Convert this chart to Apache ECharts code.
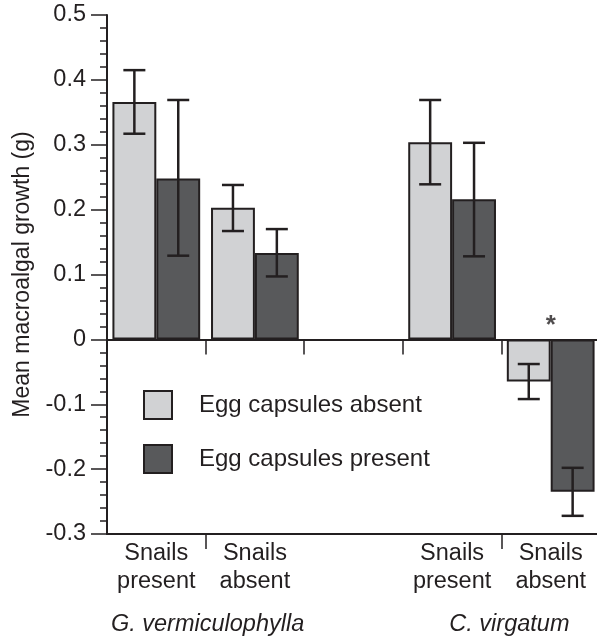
<!DOCTYPE html>
<html>
<head>
<meta charset="utf-8">
<script src="https://cdn.jsdelivr.net/npm/echarts@6/dist/echarts.min.js"></script>
<style>
html, body { margin: 0; padding: 0; background: #fff; }
#chart { width: 597px; height: 640px; }
</style>
</head>
<body>
<div id="chart"></div>
<script>
// values (third slot is an empty spacer)
var categories = ['Snails\npresent', 'Snails\nabsent', '', 'Snails\npresent', 'Snails\nabsent'];
var groups = ['G. vermiculophylla', 'C. virgatum'];
var yTicks = [-0.3, 0.5, 0.1];
var absentMean = [0.366, 0.203, null, 0.304, -0.065];
var absentLow = [0.317, 0.167, null, 0.239, -0.092];
var absentHigh = [0.415, 0.238, null, 0.369, -0.038];
var presentMean = [0.248, 0.133, null, 0.216, -0.235];
var presentLow = [0.129, 0.097, null, 0.128, -0.272];
var presentHigh = [0.369, 0.170, null, 0.303, -0.198];
var marks = ['', '', '', '', '*'];

var ink = '#231f20';
var font = '"Liberation Sans", Arial, Helvetica, sans-serif';
var fs = 23.5;
var gap = 0.11;

var chart = echarts.init(document.getElementById('chart'));

function errData(low, high) {
    var out = [];
    for (var i = 0; i < low.length; i++) {
        if (low[i] != null) out.push([i, low[i], high[i]]);
    }
    return out;
}

function errorBars(side) {
    return function (params, api) {
        var x = api.value(0);
        var lo = api.coord([x, api.value(1)]);
        var hi = api.coord([x, api.value(2)]);
        var band = api.size([1, 0])[0];
        var cx = lo[0] + side * band * (1 - gap) / 4;
        var cap = 11;
        var st = { stroke: ink, lineWidth: 2.5 };
        return {
            type: 'group',
            children: [
                { type: 'line', shape: { x1: cx, y1: hi[1], x2: cx, y2: lo[1] }, style: st },
                { type: 'line', shape: { x1: cx - cap, y1: hi[1], x2: cx + cap, y2: hi[1] }, style: st },
                { type: 'line', shape: { x1: cx - cap, y1: lo[1], x2: cx + cap, y2: lo[1] }, style: st }
            ]
        };
    };
}

var markData = [];
marks.forEach(function (m, i) { if (m) markData.push({ value: [i, 0], mark: m }); });

var option = {
    animation: false,
    textStyle: { fontFamily: font, color: ink },
    grid: { left: 107, right: -3, top: 15, bottom: 106, containLabel: false, outerBoundsMode: 'none' },
    legend: {
        orient: 'vertical',
        left: 143,
        top: 390,
        padding: 0,
        itemWidth: 28,
        itemHeight: 28,
        itemGap: 24,
        icon: 'rect',
        textStyle: { fontSize: 24, lineHeight: 28, color: ink, fontFamily: font, padding: [0, 0, 0, 22] },
        data: ['Egg capsules absent', 'Egg capsules present']
    },
    xAxis: [{
        type: 'category',
        data: categories,
        position: 'bottom',
        axisLine: { onZero: true, lineStyle: { color: ink, width: 2 } },
        axisTick: { show: true, length: 15, lineStyle: { color: ink, width: 1.5 } },
        axisLabel: { show: false },
        splitLine: { show: false }
    }, {
        type: 'category',
        data: categories,
        position: 'bottom',
        axisLine: { onZero: false, lineStyle: { color: ink, width: 2 } },
        axisTick: {
            show: true, length: 15, lineStyle: { color: ink, width: 1.5 },
            interval: function (index) { return index === 1 || index === 4; }
        },
        axisLabel: {
            show: true, interval: 0, margin: 6, fontSize: fs, lineHeight: 28,
            color: ink, fontFamily: font
        },
        splitLine: { show: false }
    }, {
        type: 'value',
        min: 0,
        max: categories.length,
        interval: 1,
        position: 'bottom',
        offset: 71,
        axisLine: { show: false },
        axisTick: { show: false },
        splitLine: { show: false },
        axisLabel: {
            show: true, fontSize: fs, fontStyle: 'italic', color: ink, fontFamily: font,
            formatter: function (v) {
                if (v === 1) return '{a|' + groups[0] + '}';
                if (v === 4) return '{b|' + groups[1] + '}';
                return '';
            },
            rich: {
                a: { fontSize: fs, fontStyle: 'italic', color: ink, fontFamily: font, padding: [0, 0, 0, 4] },
                b: { fontSize: fs, fontStyle: 'italic', color: ink, fontFamily: font, padding: [0, 0, 0, 16] }
            }
        }
    }],
    yAxis: {
        type: 'value',
        min: yTicks[0],
        max: yTicks[1],
        interval: yTicks[2],
        name: 'Mean macroalgal growth (g)',
        nameLocation: 'middle',
        nameGap: 72,
        nameTextStyle: { fontSize: 23, color: ink, fontFamily: font },
        axisLine: { show: true, lineStyle: { color: ink, width: 2 } },
        axisTick: { show: true, length: 16, lineStyle: { color: ink, width: 1.5 } },
        minorTick: { show: true, splitNumber: 5, length: 7, lineStyle: { color: ink, width: 1.5 } },
        axisLabel: { fontSize: fs, color: ink, fontFamily: font, margin: 21 },
        splitLine: { show: false },
        minorSplitLine: { show: false }
    },
    series: [{
        name: 'Egg capsules absent',
        type: 'bar',
        data: absentMean,
        barGap: '0%',
        barCategoryGap: (gap * 100) + '%',
        itemStyle: { color: '#d1d2d4', borderColor: ink, borderWidth: 2 }
    }, {
        name: 'Egg capsules present',
        type: 'bar',
        data: presentMean,
        itemStyle: { color: '#58595b', borderColor: ink, borderWidth: 2 }
    }, {
        type: 'custom',
        renderItem: errorBars(-1),
        data: errData(absentLow, absentHigh),
        z: 5
    }, {
        type: 'custom',
        renderItem: errorBars(1),
        data: errData(presentLow, presentHigh),
        z: 5
    }, {
        type: 'scatter',
        data: markData,
        symbolSize: 1,
        itemStyle: { color: 'rgba(0,0,0,0)' },
        label: {
            show: true, position: 'top', distance: 0,
            formatter: function (p) { return p.data.mark; },
            fontSize: 26, fontWeight: 'bold', color: ink, fontFamily: font
        },
        z: 6
    }]
};

chart.setOption(option);
</script>
</body>
</html>
